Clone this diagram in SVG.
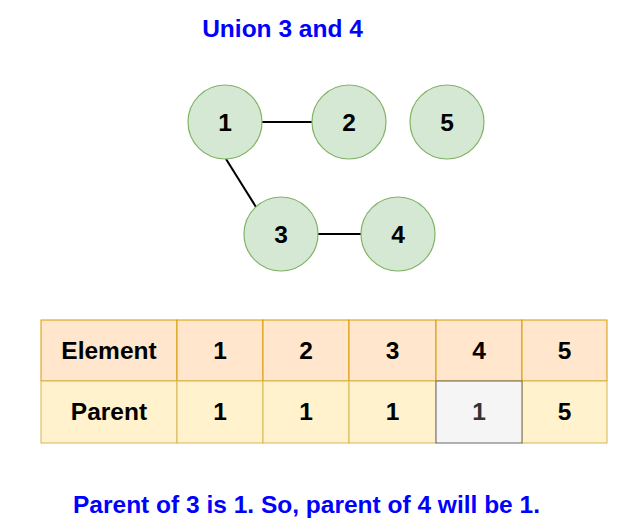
<svg xmlns="http://www.w3.org/2000/svg" width="639" height="531" viewBox="0 0 639 531">
<style>
text{font-family:"Liberation Sans",Arial,sans-serif;font-weight:bold;font-size:24.5px;text-anchor:middle}
.blue{fill:#0000ff}
.node circle{fill:#d5e8d4;stroke:#82b366;stroke-width:1.2}
.hdr{fill:#ffe6cc;stroke:#d79b00;stroke-width:1}
.val{fill:#fff2cc;stroke:#d6b656;stroke-width:1}
.sel{fill:#f5f5f5;stroke:#666666;stroke-width:1}
.edge{stroke:#000;stroke-width:2;fill:none}
</style>
<rect width="639" height="531" fill="#ffffff"/>
<text class="blue" x="282.5" y="37">Union 3 and 4</text>
<g id="connectors">
<line class="edge" x1="262" y1="122" x2="312" y2="122"/>
<line class="edge" x1="226" y1="159" x2="256" y2="207"/>
<line class="edge" x1="318" y1="234" x2="361" y2="234"/>
</g>
<g id="node1" class="node"><circle cx="225" cy="122" r="37"/><text x="225" y="131">1</text></g>
<g id="node2" class="node"><circle cx="349" cy="122" r="37"/><text x="349" y="131">2</text></g>
<g id="node5" class="node"><circle cx="447" cy="122" r="37"/><text x="447" y="131">5</text></g>
<g id="node3" class="node"><circle cx="281" cy="234" r="37"/><text x="281" y="243">3</text></g>
<g id="node4" class="node"><circle cx="398" cy="234" r="37"/><text x="398" y="243">4</text></g>
<g id="table">
<rect class="hdr" x="41" y="320" width="136" height="61"/>
<rect class="hdr" x="177" y="320" width="86" height="61"/>
<rect class="hdr" x="263" y="320" width="86" height="61"/>
<rect class="hdr" x="349" y="320" width="87" height="61"/>
<rect class="hdr" x="436" y="320" width="86" height="61"/>
<rect class="hdr" x="522" y="320" width="85" height="61"/>
<rect class="val" x="41" y="381" width="136" height="62"/>
<rect class="val" x="177" y="381" width="86" height="62"/>
<rect class="val" x="263" y="381" width="86" height="62"/>
<rect class="val" x="349" y="381" width="87" height="62"/>
<rect class="val" x="522" y="381" width="85" height="62"/>
<rect class="sel" x="436" y="381" width="86" height="62"/>
<text x="109" y="359">Element</text>
<text x="220" y="359">1</text>
<text x="306" y="359">2</text>
<text x="392.5" y="359">3</text>
<text x="479" y="359">4</text>
<text x="564.5" y="359">5</text>
<text x="109" y="420">Parent</text>
<text x="220" y="420">1</text>
<text x="306" y="420">1</text>
<text x="392.5" y="420">1</text>
<text x="479" y="420" fill="#333333">1</text>
<text x="564.5" y="420">5</text>
</g>
<text class="blue" x="306.5" y="513">Parent of 3 is 1. So, parent of 4 will be 1.</text>
</svg>
